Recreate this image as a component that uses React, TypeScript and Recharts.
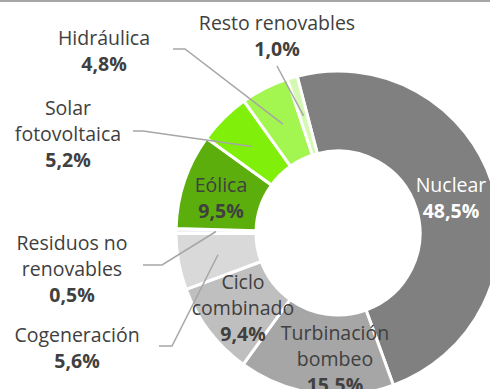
import { PieChart, Pie, Cell } from "recharts";

// Generation mix, share of total (%)
const sources = [
  "Nuclear",
  "Turbinación bombeo",
  "Ciclo combinado",
  "Cogeneración",
  "Residuos no renovables",
  "Eólica",
  "Solar fotovoltaica",
  "Hidráulica",
  "Resto renovables",
];
const shares = [48.5, 15.5, 9.4, 5.6, 0.5, 9.5, 5.2, 4.8, 1.0];

const colors = [
  "#808080",
  "#a6a6a6",
  "#bfbfbf",
  "#d9d9d9",
  "#f0f0f0",
  "#5cae0c",
  "#80f00a",
  "#a3f54f",
  "#d5f8b2",
];

const data = sources.map((name, i) => ({ name, value: shares[i] }));

const RADIAN = Math.PI / 180;
const TEXT = "#404040";
const LINE = "#a6a6a6";
const LINE_H = 26;
const FONT_SIZE = 19.5;

type LabelLayout = {
  lines: string[];
  x: number;
  y: number; // centre of first line
  color?: string;
  leader?: [number, number][]; // from text side towards the slice
};

// label placement, indexed like `sources`
const labelLayout: LabelLayout[] = [
  { lines: ["Nuclear"], x: 451, y: 184, color: "#ffffff" },
  { lines: ["Turbinación", "bombeo"], x: 335, y: 332 },
  { lines: ["Ciclo", "combinado"], x: 243, y: 281 },
  { lines: ["Cogeneración"], x: 77, y: 334, leader: [[159, 346], [172, 346]] },
  { lines: ["Residuos no", "renovables"], x: 72, y: 242, leader: [[143, 265], [162, 265]] },
  { lines: ["Eólica"], x: 221, y: 184 },
  { lines: ["Solar", "fotovoltaica"], x: 68, y: 107, leader: [[133, 131], [143, 131]] },
  { lines: ["Hidráulica"], x: 104, y: 37, leader: [[173, 49], [185, 49]] },
  { lines: ["Resto renovables"], x: 277, y: 22, leader: [[277, 66]] },
];

const fmt = (v: number) => v.toFixed(1).replace(".", ",") + "%";

const renderLabel = (props: any) => {
  const { cx, cy, midAngle, innerRadius, outerRadius, index, value } = props;
  const cfg = labelLayout[index];
  const color = cfg.color ?? TEXT;
  let leader = null;
  if (cfg.leader) {
    const r = (innerRadius + outerRadius) / 2;
    const ex = cx + r * Math.cos(-midAngle * RADIAN);
    const ey = cy + r * Math.sin(-midAngle * RADIAN);
    const pts = [...cfg.leader, [ex, ey]].map((p) => p.join(",")).join(" ");
    leader = <polyline points={pts} fill="none" stroke={LINE} strokeWidth={1.5} />;
  }
  return (
    <g key={`lbl-${index}`}>
      {leader}
      {cfg.lines.map((t, i) => (
        <text
          key={i}
          x={cfg.x}
          y={cfg.y + i * LINE_H}
          fill={color}
          textAnchor="middle"
          dominantBaseline="central"
          fontSize={FONT_SIZE}
        >
          {t}
        </text>
      ))}
      <text
        x={cfg.x}
        y={cfg.y + cfg.lines.length * LINE_H}
        fill={color}
        textAnchor="middle"
        dominantBaseline="central"
        fontSize={FONT_SIZE}
        fontWeight="bold"
      >
        {fmt(value)}
      </text>
    </g>
  );
};

export default function App() {
  return (
    <div
      style={{
        position: "absolute",
        left: 0,
        top: 0,
        width: 490,
        height: 389,
        background: "#fff",
        fontFamily: "'Open Sans', sans-serif",
        overflow: "hidden",
      }}
    >
      <div
        style={{
          position: "absolute",
          left: 0,
          top: 0,
          width: 490,
          borderTop: "2px solid #a6a6a6",
        }}
      />
      <PieChart width={490} height={389} margin={{ top: 0, right: 0, bottom: 0, left: 0 }}>
        <Pie
          data={data}
          dataKey="value"
          nameKey="name"
          cx={338}
          cy={233}
          innerRadius={82}
          outerRadius={162}
          startAngle={104.6}
          endAngle={-255.4}
          stroke="#ffffff"
          strokeWidth={3}
          labelLine={false}
          label={renderLabel}
          isAnimationActive={false}
        >
          {data.map((d, i) => (
            <Cell key={d.name} fill={colors[i]} />
          ))}
        </Pie>
      </PieChart>
    </div>
  );
}
